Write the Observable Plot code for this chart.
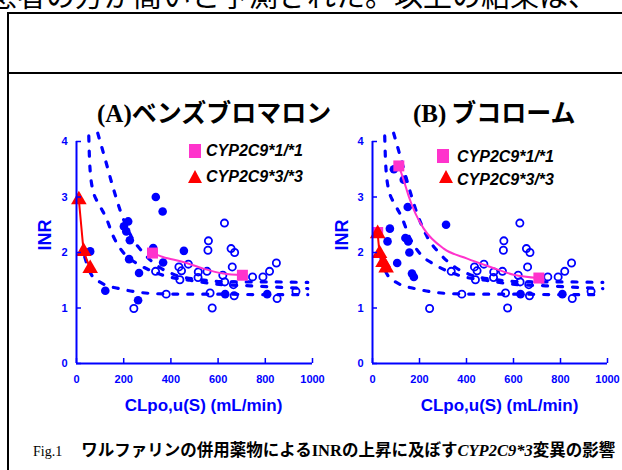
<!DOCTYPE html>
<html><head><meta charset="utf-8">
<script src="https://cdn.jsdelivr.net/npm/d3@7"></script>
<script src="https://cdn.jsdelivr.net/npm/@observablehq/plot@0.6"></script>
<style>
body{margin:0;width:622px;height:470px;overflow:hidden;background:#fff;position:relative;font-family:"Liberation Sans",Arial,sans-serif}
.abs{position:absolute;white-space:nowrap}
.jp{font-family:"Noto Sans CJK JP",sans-serif;font-weight:bold}
.serif{font-family:"Liberation Serif","Times New Roman",serif}
.leg{font:italic bold 16px "Liberation Sans",Arial,sans-serif;color:#000}
.sq{position:absolute;width:12px;height:14px;background:#FF33CC}
.tri{position:absolute;width:0;height:0;border-left:7px solid transparent;border-right:7px solid transparent;border-bottom:13px solid #FF0000}
</style></head><body>
<div class="abs" style="left:-12px;top:-20px;font:29px/29px 'Noto Sans CJK JP',sans-serif;color:#000">患者の方が高いと予測された。以上の結果は、</div>
<div class="abs" style="left:7px;top:12px;width:640px;height:480px;border-left:2px solid #000;border-top:2px solid #000"></div>
<div class="abs" style="left:7px;top:72px;width:640px;height:2px;background:#000"></div>

<div class="abs" style="left:97px;top:95px;font-size:25px;line-height:32px"><span class="serif" style="font-weight:bold">(A)</span><span class="jp">ベンズブロマロン</span></div>
<div class="abs" style="left:413px;top:95px;font-size:25px;line-height:32px"><span class="serif" style="font-weight:bold">(B)</span><span class="jp">&#8201;ブコローム</span></div>

<div id="pA" class="abs" style="left:0;top:120px"></div>
<div id="pB" class="abs" style="left:296px;top:120px"></div>

<div class="sq" style="left:189px;top:144px"></div>
<div class="abs leg" style="left:206px;top:142px;line-height:18px">CYP2C9*1/*1</div>
<div class="tri" style="left:188px;top:170px"></div>
<div class="abs leg" style="left:206px;top:168px;line-height:18px">CYP2C9*3/*3</div>

<div class="sq" style="left:437px;top:149px"></div>
<div class="abs leg" style="left:457px;top:148px;line-height:18px">CYP2C9*1/*1</div>
<div class="tri" style="left:439px;top:170px"></div>
<div class="abs leg" style="left:457px;top:171px;line-height:18px">CYP2C9*3/*3</div>

<div class="abs" style="left:33px;top:439px;line-height:20px;color:#000"><span class="serif" style="font-size:14px">Fig.1</span><span style="display:inline-block;width:19px"></span><span class="jp" style="font-size:16.5px">ワルファリンの併用薬物による<span class="serif" style="font-weight:bold">INR</span>の上昇に及ぼす<span class="serif" style="font-weight:bold;font-style:italic">CYP2C9*3</span>変異の影響</span></div>

<script>
const blue = "#0000FF", magenta = "#FF33CC", red = "#FF0000";
const xTicks = [0, 200, 400, 600, 800, 1000];
const yTicks = [0, 1, 2, 3, 4];
const xLabel = "CLpo,u(S) (mL/min)";
const yLabel = "INR";

// model curves (dashed), same in both panels
const curveUpper = [[90,4.15],[119,3.72],[155,3.17],[190,2.7],[233,2.28],[282,2.0],[353,1.73],[410,1.61],[523,1.51],[665,1.47],[807,1.47],[980,1.46]];
const curveMiddle = [[52,4.1],[56,3.6],[68,3.15],[98,2.85],[126,2.62],[155,2.3],[204,1.97],[261,1.79],[311,1.68],[382,1.57],[481,1.5],[594,1.43],[736,1.4],[878,1.37],[980,1.35]];
const curveLower = [[35,1.92],[50,1.72],[69,1.56],[98,1.47],[130,1.4],[169,1.36],[254,1.29],[325,1.26],[450,1.25],[600,1.25],[800,1.24],[980,1.24]];

// open circles (shared by both panels)
const openPts = [[243,0.99],[335,1.66],[380,1.25],[434,1.74],[445,1.67],[438,1.51],[474,1.79],[516,1.65],[515,1.55],[553,1.66],[559,2.21],[557,2.04],[566,1.27],[575,1.0],[627,2.53],[620,1.59],[628,1.47],[655,2.07],[670,2.0],[660,1.74],[665,1.42],[668,1.22],[746,1.56],[790,1.56],[818,1.66],[847,1.81],[850,1.17],[930,1.30]];
const filledShared = [[630,1.25],[808,1.25]];
const filledA = [[58,2.02],[122,1.31],[219,2.56],[201,2.47],[211,2.38],[226,2.22],[223,1.88],[265,1.63],[261,1.14],[336,3.0],[365,2.74],[325,2.08],[367,1.82],[455,2.03]];
const filledB = [[91,3.5],[133,3.31],[150,2.82],[74,2.43],[64,2.2],[140,2.26],[152,2.2],[157,2.0],[105,1.81],[168,1.62],[176,1.56],[313,2.5]];

// CYP2C9*1/*1 (magenta) and *3/*3 (red)
const magA = [[322,1.99],[366,1.92],[452,1.83],[537,1.71],[622,1.62],[703,1.59]];
const magASquares = [[322,1.99],[703,1.59]];
const magB = [[112,3.56],[133,3.3],[155,3.0],[183,2.7],[218,2.43],[303,2.07],[403,1.89],[502,1.74],[601,1.6],[708,1.54]];
const magBSquares = [[22,2.36],[112,3.56],[708,1.54]];
const triA = [[10,2.95],[30,2.02],[58,1.71]];
const triB = [[22,2.34],[30,1.98],[45,1.82],[58,1.72]];

const curves = [
  ...curveUpper.map(d => ({x: d[0], y: d[1], c: "upper"})),
  ...curveMiddle.map(d => ({x: d[0], y: d[1], c: "middle"})),
  ...curveLower.map(d => ({x: d[0], y: d[1], c: "lower"}))
];

function panel({width, marginRight, filled, mag, magSq, tri, dxLab, dxY}) {
  const H = 300, mt = 21, mb = 57, ml = 76;
  const fw = width - ml - marginRight, fh = H - mt - mb;
  return Plot.plot({
    width, height: H, marginTop: mt, marginBottom: mb, marginLeft: ml, marginRight,
    x: {domain: [0, 1000], label: null},
    y: {domain: [0, 4], label: null},
    style: {fontFamily: "'Liberation Sans', Arial, sans-serif", color: blue, overflow: "visible", background: "transparent"},
    marks: [
      Plot.line(curves, {x: "x", y: "y", z: "c", stroke: blue, strokeWidth: 3.2, strokeDasharray: "5,10", curve: "monotone-x"}),
      Plot.dot(openPts, {x: d => d[0], y: d => d[1], r: 3.6, stroke: blue, strokeWidth: 1.8, fill: "none"}),
      Plot.dot([...filled, ...filledShared], {x: d => d[0], y: d => d[1], r: 4.3, fill: blue, stroke: "none"}),
      Plot.line(mag, {x: d => d[0], y: d => d[1], stroke: magenta, strokeWidth: 2, curve: "monotone-x"}),
      Plot.dot(magSq, {x: d => d[0], y: d => d[1], symbol: "square", r: 6.2, fill: magenta, stroke: "none"}),
      Plot.line(tri, {x: d => d[0], y: d => d[1], stroke: red, strokeWidth: 2}),
      Plot.dot(tri, {x: d => d[0], y: d => d[1], symbol: "triangle", r: 5.8, fill: red, stroke: "none"}),
      Plot.ruleX([0], {stroke: blue, strokeWidth: 2}),
      Plot.ruleY([0], {stroke: blue, strokeWidth: 2}),
      Plot.tickX(xTicks, {x: d => d, stroke: blue, strokeWidth: 1.5, insetTop: fh - 5}),
      Plot.tickY(yTicks, {y: d => d, stroke: blue, strokeWidth: 1.5, insetRight: fw - 5}),
      Plot.axisX({ticks: xTicks, tickFormat: d3.format("d"), tickSize: 0, tickPadding: 12, fontSize: 11, fontWeight: "bold", fill: blue, label: null}),
      Plot.axisY({ticks: yTicks, tickFormat: d3.format("d"), tickSize: 0, tickPadding: 9, fontSize: 11, fontWeight: "bold", fill: blue, label: null}),
      Plot.text([xLabel], {frameAnchor: "bottom", dy: 47, dx: dxLab, fontSize: 17, fontWeight: "bold", fill: blue}),
      Plot.text([yLabel], {frameAnchor: "left", dx: dxY, dy: -2, rotate: -90, fontSize: 18, fontWeight: "bold", fill: blue})
    ]
  });
}

document.getElementById("pA").append(panel({width: 330, marginRight: 18, filled: filledA, mag: magA, magSq: magASquares, tri: triA, dxLab: 9, dxY: -31}));
document.getElementById("pB").append(panel({width: 326, marginRight: 15, filled: filledB, mag: magB, magSq: magBSquares, tri: triB, dxLab: 9.5, dxY: -30}));
</script>
</body></html>
